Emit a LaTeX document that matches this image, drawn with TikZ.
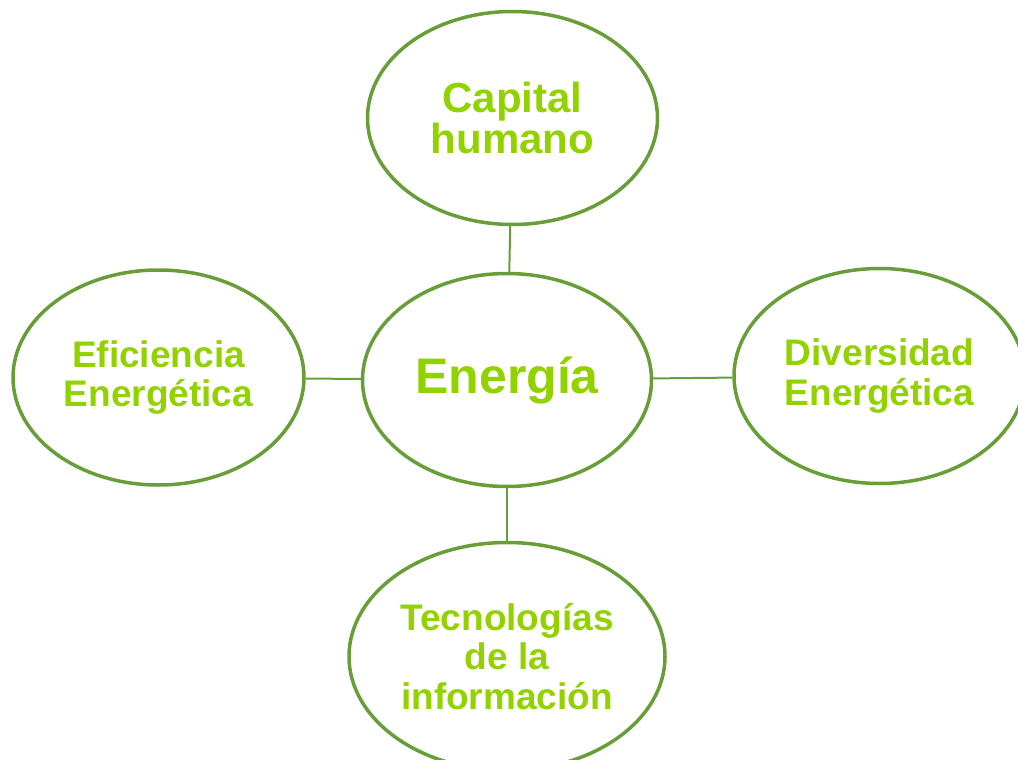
\documentclass[tikz,border=0pt]{standalone}
\usepackage{fontspec}
\setmainfont{Liberation Sans}
\usetikzlibrary{shapes.geometric}

\definecolor{hojaverde}{RGB}{104,158,56}
\definecolor{limaverde}{RGB}{146,210,0}

\tikzset{
  burbuja/.style={ellipse, draw=hojaverde, line width=3.5pt, inner sep=0pt,
    align=center, text=limaverde, minimum width=291pt, minimum height=215pt,
    font=\fontsize{37}{39.5}\selectfont\bfseries},
  enlace/.style={draw=hojaverde, line width=2pt}
}

\begin{document}
\begin{tikzpicture}[x=1pt,y=-1pt]
\useasboundingbox (0,0) rectangle (1018,760);

% centre
\node[burbuja, minimum width=289pt, minimum height=213pt,
      font=\fontsize{50}{52}\selectfont\bfseries] (energia) at (507,380) {Energ\'ia};

% los cuatro alrededor
\node[burbuja, minimum width=290pt, minimum height=213pt,
      font=\fontsize{42}{41}\selectfont\bfseries] (capital) at (512.5,118) {Capital\\humano};
\node[burbuja] (eficiencia) at (158.5,377.5) {Eficiencia\\Energ\'etica};
\node[burbuja] (diversidad) at (879.5,376) {Diversidad\\Energ\'etica};
\node[burbuja, minimum width=316pt, minimum height=228pt] (tecno) at (507,656.5) {Tecnolog\'ias\\de la\\informaci\'on};

\draw[enlace] (capital) -- (energia);
\draw[enlace] (eficiencia) -- (energia);
\draw[enlace] (energia) -- (diversidad);
\draw[enlace] (energia) -- (tecno);

\end{tikzpicture}
\end{document}
